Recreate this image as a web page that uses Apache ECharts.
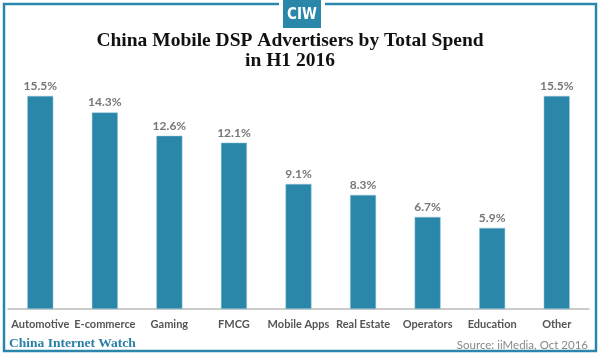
<!DOCTYPE html>
<html><head><meta charset="utf-8">
<script src="https://cdn.jsdelivr.net/npm/echarts@6/dist/echarts.min.js"></script>
<style>html,body{margin:0;padding:0;background:#fff}#c{width:600px;height:357px}</style>
</head><body><div id="c"></div>
<script>
const categories = ['Automotive','E-commerce','Gaming','FMCG','Mobile Apps','Real Estate','Operators','Education','Other'];
const spendShare = [15.5,14.3,12.6,12.1,9.1,8.3,6.7,5.9,15.5];
const titleLines = ['China Mobile DSP Advertisers by Total Spend','in H1 2016'];
const sourceText = 'Source: iiMedia, Oct 2016';
const brandText = 'China Internet Watch';
const logoText = 'CIW';

const blue = '#2a87aa';
const chart = echarts.init(document.getElementById('c'));
chart.setOption({
  animation:false,
  grid:{left:8,right:11,top:89,bottom:48,containLabel:false},
  xAxis:{type:'category',data:categories,
    axisLine:{lineStyle:{color:'#bbb',width:1.5}},axisTick:{show:false},
    axisLabel:{interval:0,color:'#555',fontSize:11,fontWeight:'bold',fontFamily:'Lato',margin:10}},
  yAxis:{type:'value',min:0,max:16,show:false,splitLine:{show:false}},
  series:[{type:'bar',data:spendShare,barWidth:26,
    itemStyle:{color:blue,borderColor:'#9cc9da',borderWidth:0.5},
    label:{show:true,position:'top',distance:4,formatter:p=>p.value.toFixed(1)+'%',
      color:'#777',fontSize:12,fontWeight:'bold',fontFamily:'Lato'}}],
  graphic:[
    {type:'polyline',shape:{points:[[279,4],[4,4],[4,351],[596,351],[596,4],[325,4]]},
      style:{stroke:blue,lineWidth:2.5,fill:null}},
    {type:'rect',shape:{x:283,y:0,width:38,height:28},style:{fill:blue}},
    {type:'text',x:302,y:15,style:{text:logoText,fill:'#fff',font:'bold 15px "Liberation Sans Narrow", "DejaVu Sans Condensed", sans-serif',textAlign:'center',textVerticalAlign:'middle'}},
    {type:'text',x:290,y:31,style:{text:titleLines.join('\n'),fill:'#111',font:'bold 19.5px "Liberation Serif"',lineHeight:20,textAlign:'center',textVerticalAlign:'top'}},
    {type:'text',x:9,y:344,style:{text:brandText,fill:'#2a7fa5',font:'bold 13.5px "Liberation Serif"',textAlign:'left',textVerticalAlign:'middle'}},
    {type:'text',x:588,y:345,style:{text:sourceText,fill:'#888',font:'11.5px Lato',textAlign:'right',textVerticalAlign:'middle'}}
  ]
});
</script></body></html>
